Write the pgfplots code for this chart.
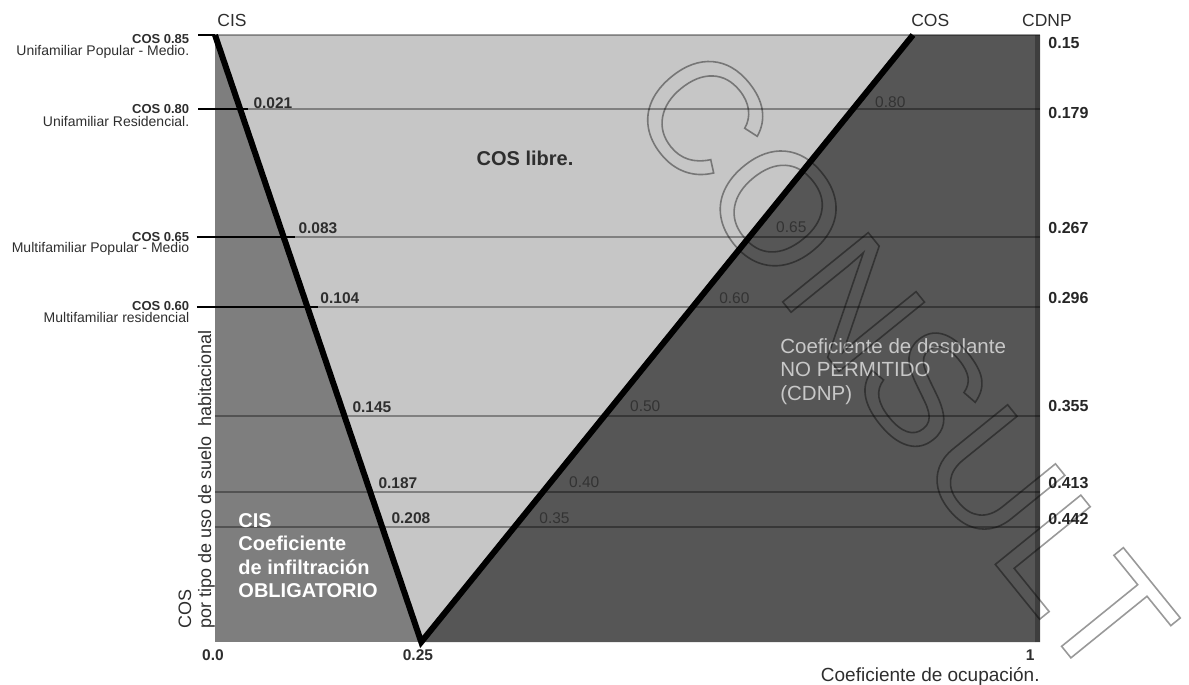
\documentclass[border=0pt]{standalone}
\usepackage{pgfplots}
\pgfplotsset{compat=1.18}
\usepackage{fontspec}
\setmainfont{Liberation Sans}

\definecolor{cisgris}{HTML}{7E7E7E}
\definecolor{libre}{HTML}{C6C6C6}
\definecolor{cdnp}{HTML}{565656}
\definecolor{texto}{HTML}{2E2E2E}
\definecolor{borde}{HTML}{3E3E3E}
\definecolor{claro}{HTML}{C8C8C8}

\newcommand{\fs}[2]{\fontsize{#1bp}{#2bp}\selectfont}

\begin{document}
\begin{tikzpicture}
\path[use as bounding box] (0,0) rectangle (1189bp,-685bp);
\begin{axis}[
    at={(215bp,-642bp)}, anchor=south west,
    scale only axis, width=825bp, height=607bp,
    xmin=0, xmax=1, ymin=0, ymax=607,
    axis lines=none, clip=false,
    every node/.style={inner sep=0pt},
]
% zonas
\addplot[fill=cisgris, draw=none] coordinates {(0,0) (0,607) (1,607) (1,0)} -- cycle;
\addplot[fill=libre, draw=none] coordinates {(0,607) (0.846,607) (0.25,0)} -- cycle;
\addplot[fill=cdnp, draw=none] coordinates {(0.25,0) (0.846,607) (1,607) (1,0)} -- cycle;
\addplot[borde, line width=5bp] coordinates {(0.997,0) (0.997,607)};

% niveles de COS
\pgfplotsinvokeforeach{607,533,405,335,226,150,115}{
  \addplot[black, opacity=0.35, line width=1.5bp] coordinates {(0,#1) (1,#1)};
}
\addplot[black, line width=2.5bp] coordinates {(-0.02,607) (0.0,607)};
\addplot[black, line width=2.5bp] coordinates {(-0.02,533) (0.04,533)};
\addplot[black, line width=2.5bp] coordinates {(-0.022,405) (0.097,405)};
\addplot[black, line width=2.5bp] coordinates {(-0.022,335) (0.125,335)};

% limites CIS y COS
\addplot[black, line width=6bp, line join=miter] coordinates {(0,607) (0.25,0) (0.846,607)};

% etiquetas izquierda
\node[anchor=east, font=\fs{13}{15}\bfseries, text=texto] at (-0.027,603) {COS 0.85};
\node[anchor=east, font=\fs{14}{16}, text=texto] at (-0.027,590) {Unifamiliar Popular - Medio.};
\node[anchor=east, font=\fs{13}{15}\bfseries, text=texto] at (-0.027,532.5) {COS 0.80};
\node[anchor=east, font=\fs{14}{16}, text=texto] at (-0.027,521) {Unifamiliar Residencial.};
\node[anchor=east, font=\fs{13}{15}\bfseries, text=texto] at (-0.027,405) {COS 0.65};
\node[anchor=east, font=\fs{14}{16}, text=texto] at (-0.027,393) {Multifamiliar Popular - Medio};
\node[anchor=east, font=\fs{13}{15}\bfseries, text=texto] at (-0.027,335.5) {COS 0.60};
\node[anchor=east, font=\fs{14}{16}, text=texto] at (-0.027,324.5) {Multifamiliar residencial};

\node[rotate=90, anchor=north west, align=left, font=\fs{18}{20}, text=texto] at (-0.0485,10)
  {COS\\por tipo de uso de suelo\ \ habitacional};

% titulos superiores
\node[font=\fs{17.5}{20}, text=texto] at (0.0206,622) {CIS};
\node[font=\fs{17.5}{20}, text=texto] at (0.867,622) {COS};
\node[font=\fs{17.5}{20}, text=texto] at (1.0085,622) {CDNP};

% CDNP a la derecha
\begin{scope}[every node/.append style={anchor=west, font=\fs{16}{18}\bfseries, text=black!85}]
\node at (1.006,599) {0.15};
\node at (1.006,529) {0.179};
\node at (1.006,414) {0.267};
\node at (1.006,344) {0.296};
\node at (1.006,236) {0.355};
\node at (1.006,159) {0.413};
\node at (1.006,123) {0.442};
\end{scope}

% valores CIS
\begin{scope}[every node/.append style={anchor=west, font=\fs{15.5}{18}\bfseries, text=texto}]
\node at (0.0424,539) {0.021};
\node at (0.097,414) {0.083};
\node at (0.1236,344) {0.104};
\node at (0.1624,235) {0.145};
\node at (0.194,159) {0.187};
\node at (0.2097,124) {0.208};
\end{scope}

% valores COS
\begin{scope}[every node/.append style={anchor=west, font=\fs{15.5}{18}, text=black!80}]
\node at (0.796,540) {0.80};
\node at (0.676,415) {0.65};
\node at (0.607,344) {0.60};
\node at (0.499,236) {0.50};
\node at (0.425,160) {0.40};
\node at (0.389,124) {0.35};
\end{scope}

% textos de zonas
\node[font=\fs{20}{23}\bfseries, text=texto] at (0.3758,484) {COS libre.};
\node[anchor=north west, align=left, font=\fs{20}{23.3}\bfseries, text=white] at (0.0242,132)
  {CIS\\Coeficiente\\de infiltración\\OBLIGATORIO};
\node[anchor=north west, align=left, font=\fs{20.5}{23.5}, text=claro] at (0.681,307)
  {Coeficiente de desplante\\NO PERMITIDO\\(CDNP)};

% eje x
\node[font=\fs{15.5}{18}\bfseries, text=texto] at (-0.0024,-13) {0.0};
\node[font=\fs{15.5}{18}\bfseries, text=texto] at (0.246,-13) {0.25};
\node[font=\fs{15.5}{18}\bfseries, text=texto] at (0.988,-13) {1};
\node[font=\fs{19}{22}, text=texto] at (0.867,-34) {Coeficiente de ocupación.};

% marca de agua
\node[rotate=-51, opacity=0.4, text=black, font=\fs{160}{160}] at (0.834,279)
  {\special{pdf:literal direct 1 Tr 1.6 w}CONSULT\special{pdf:literal direct 0 Tr}};
\end{axis}
\end{tikzpicture}
\end{document}
